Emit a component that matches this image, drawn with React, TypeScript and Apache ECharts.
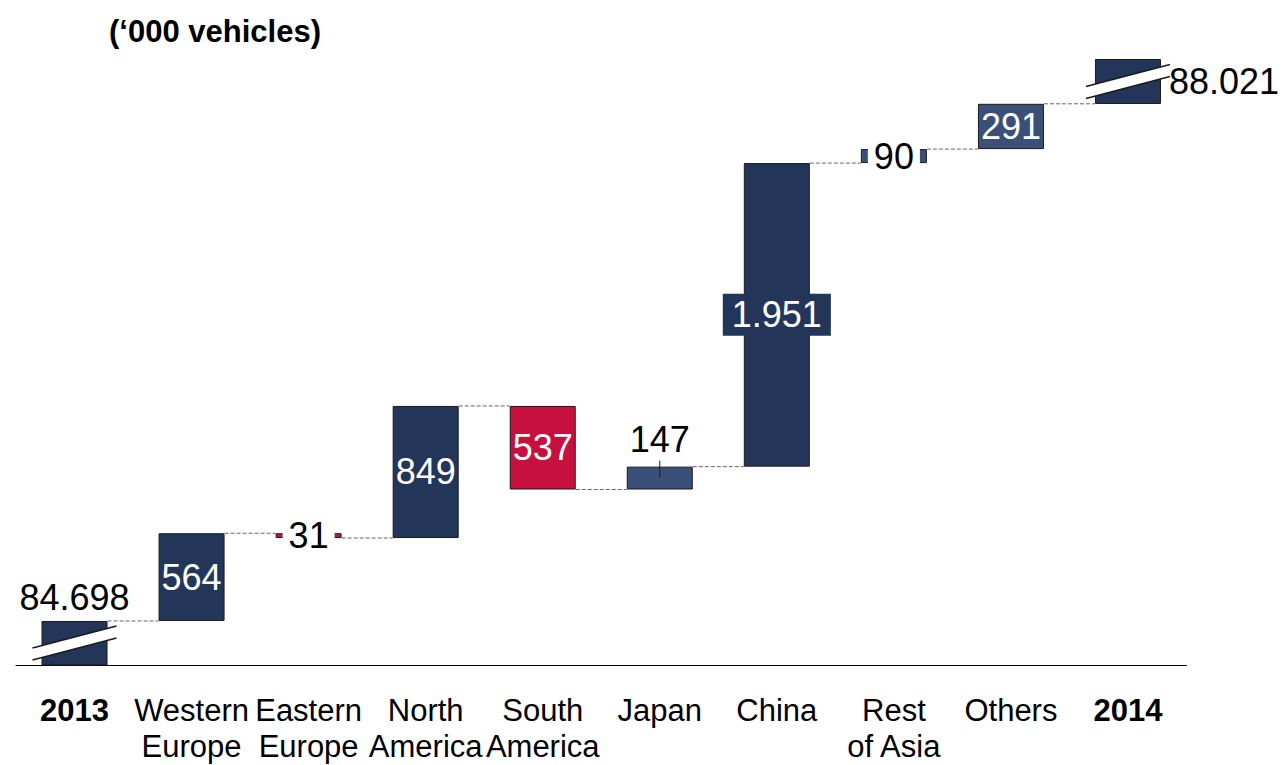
import React, { useEffect, useRef } from 'react';
import * as echarts from 'echarts';

// ---- data ----
const categories = [
  '2013',
  'Western\nEurope',
  'Eastern\nEurope',
  'North\nAmerica',
  'South\nAmerica',
  'Japan',
  'China',
  'Rest\nof Asia',
  'Others',
  '2014',
];
const startTotal = 84698;
const changes = [564, -31, 849, -537, 147, 1951, 90, 291];
const endTotal = 88021;
const titleText = '(‘000 vehicles)';

// ---- axis / style settings ----
const yMin = 84415;
const yMax = 88310;
const NAVY = '#23365a';
const STEEL = '#3a5078';
const RED = '#c8103e';
const itemColors = [NAVY, NAVY, RED, NAVY, RED, STEEL, NAVY, STEEL, STEEL, NAVY];
const FONT = '"Liberation Sans", Arial, Helvetica, sans-serif';
const BAR_W = 66;

function fmt(n: number): string {
  return String(Math.abs(n)).replace(/\B(?=(\d{3})+(?!\d))/g, '.');
}

export default function App() {
  const ref = useRef<HTMLDivElement>(null);

  useEffect(() => {
    const chart = echarts.init(ref.current!, null, { renderer: 'svg' });

    const levels: number[] = [startTotal];
    changes.forEach((c) => levels.push(levels[levels.length - 1] + c));

    const base: number[] = [0];
    const height: number[] = [startTotal];
    changes.forEach((c, i) => {
      base.push(Math.min(levels[i], levels[i + 1]));
      height.push(Math.abs(c));
    });
    base.push(endTotal);
    height.push(yMax - endTotal);

    const labelValues = [startTotal, ...changes.map((c) => Math.abs(c)), endTotal];

    const valueFont = { fontFamily: FONT, fontSize: 36 };
    const labelCfg = (i: number): any => {
      const txt = fmt(labelValues[i]);
      const common = { show: true, formatter: txt, ...valueFont };
      switch (i) {
        case 0:
          return { ...common, position: 'top', distance: 5, color: '#000' };
        case 5:
          return { ...common, position: 'top', distance: 9, color: '#000' };
        case 9:
          return { ...common, position: 'right', distance: 8, color: '#000' };
        case 2:
        case 7:
          return {
            ...common,
            position: 'inside',
            color: '#000',
            backgroundColor: '#fff',
            padding: [0, 6],
          };
        case 6:
          return {
            ...common,
            position: 'inside',
            color: '#fff',
            backgroundColor: NAVY,
            padding: [3, 9],
          };
        default:
          return { ...common, position: 'inside', color: '#fff' };
      }
    };

    const visibleData = height.map((h, i) => ({
      value: h,
      itemStyle: { color: itemColors[i], borderColor: '#1a1a1a', borderWidth: 1 },
      label: labelCfg(i),
    }));

    const connectorData = levels.map((lv, i) => [i, lv]);
    const breakData = [
      [0, yMin, startTotal],
      [categories.length - 1, endTotal, yMax],
    ];
    const tickData = [[5, levels[5]]];

    const option: any = {
      animation: false,
      title: {
        text: titleText,
        left: 104,
        top: 11,
        textStyle: { fontFamily: FONT, fontSize: 31, fontWeight: 'bold', color: '#000' },
      },
      grid: {
        left: 16,
        right: 95.5,
        top: 59,
        bottom: 100,
        containLabel: false,
        outerBoundsMode: 'none',
      },
      xAxis: {
        type: 'category',
        data: categories,
        axisTick: { show: false },
        axisLine: { lineStyle: { color: '#000', width: 1 } },
        axisLabel: {
          interval: 0,
          margin: 27,
          fontFamily: FONT,
          fontSize: 31,
          lineHeight: 36,
          color: '#000',
          formatter: (v: string) => (v === '2013' || v === '2014' ? `{b|${v}}` : v),
          rich: {
            b: { fontFamily: FONT, fontSize: 31, fontWeight: 'bold', lineHeight: 36, color: '#000' },
          },
        },
      },
      yAxis: {
        type: 'value',
        min: yMin,
        max: yMax,
        show: false,
        splitLine: { show: false },
      },
      series: [
        {
          type: 'custom',
          z: 1,
          data: connectorData,
          renderItem: (params: any, api: any) => {
            const i = api.value(0);
            const lv = api.value(1);
            const p1 = api.coord([i, lv]);
            const p2 = api.coord([i + 1, lv]);
            return {
              type: 'line',
              shape: { x1: p1[0] + BAR_W / 2, y1: p1[1], x2: p2[0] - BAR_W / 2, y2: p1[1] },
              style: { stroke: '#666', lineWidth: 1, lineDash: [4, 2] },
            };
          },
        },
        {
          type: 'bar',
          stack: 'wf',
          barWidth: BAR_W,
          z: 2,
          itemStyle: { color: 'transparent' },
          emphasis: { disabled: true },
          data: base,
        },
        {
          type: 'bar',
          stack: 'wf',
          barWidth: BAR_W,
          z: 2,
          emphasis: { disabled: true },
          data: visibleData,
        },
        {
          type: 'custom',
          z: 5,
          data: breakData,
          renderItem: (params: any, api: any) => {
            const i = api.value(0);
            const lo = api.value(1);
            const hi = api.value(2);
            const c = api.coord([i, (lo + hi) / 2]);
            const cx = c[0];
            const cy = c[1];
            const hx = 42;
            const dy = 11;
            const t = 6;
            const ul = [cx - hx, cy - t + dy];
            const ur = [cx + hx, cy - t - dy];
            const lr = [cx + hx, cy + t - dy];
            const ll = [cx - hx, cy + t + dy];
            return {
              type: 'group',
              children: [
                {
                  type: 'polygon',
                  shape: { points: [ul, ur, lr, ll] },
                  style: { fill: '#fff', stroke: 'none' },
                },
                {
                  type: 'line',
                  shape: { x1: ul[0], y1: ul[1], x2: ur[0], y2: ur[1] },
                  style: { stroke: '#1a1a1a', lineWidth: 1.5 },
                },
                {
                  type: 'line',
                  shape: { x1: ll[0], y1: ll[1], x2: lr[0], y2: lr[1] },
                  style: { stroke: '#1a1a1a', lineWidth: 1.5 },
                },
              ],
            };
          },
        },
        {
          type: 'custom',
          z: 5,
          data: tickData,
          renderItem: (params: any, api: any) => {
            const p = api.coord([api.value(0), api.value(1)]);
            return {
              type: 'line',
              shape: { x1: p[0], y1: p[1] - 6, x2: p[0], y2: p[1] + 11 },
              style: { stroke: '#1a1a1a', lineWidth: 1 },
            };
          },
        },
      ],
    };

    chart.setOption(option);
    return () => chart.dispose();
  }, []);

  return (
    <div
      ref={ref}
      style={{ position: 'absolute', left: 0, top: 0, width: 1282, height: 765, background: '#fff' }}
    />
  );
}
